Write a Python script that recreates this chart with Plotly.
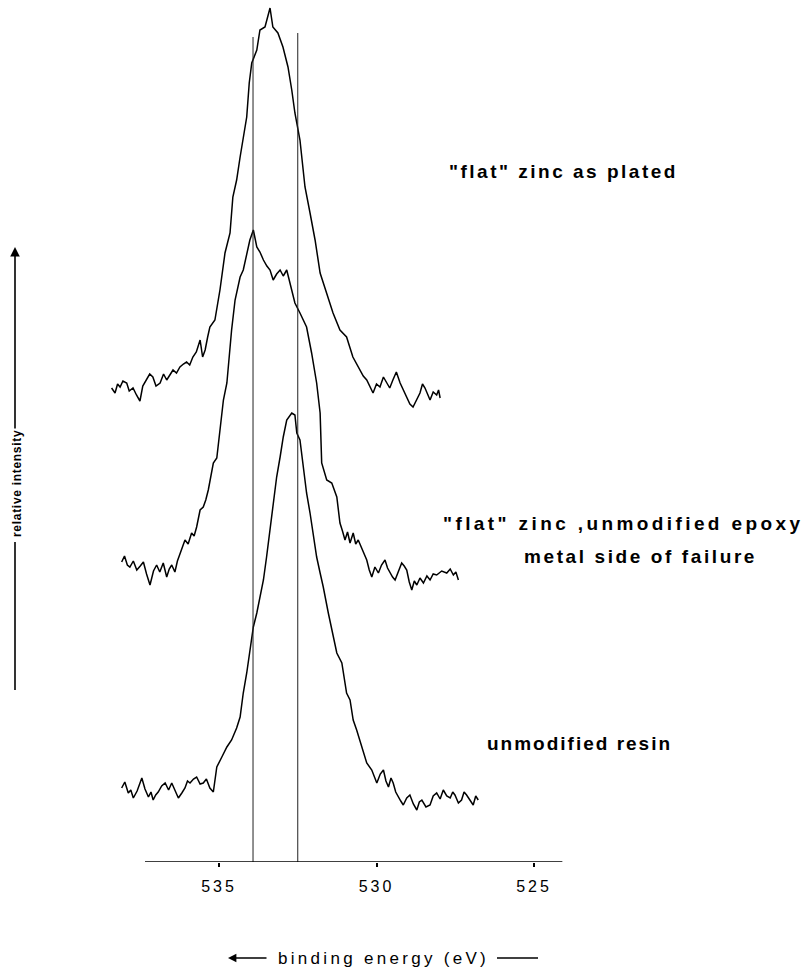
import plotly.graph_objects as go

# ---- data (binding energy in eV, relative intensity a.u.) ----
e_plated = [538.41, 538.30, 538.22, 538.14, 538.05, 537.93, 537.85, 537.73, 537.62, 537.51,
            537.42, 537.30, 537.20, 537.10, 537.00, 536.87, 536.76, 536.66, 536.56, 536.46,
            536.35, 536.24, 536.13, 536.03, 535.93, 535.83, 535.72, 535.60, 535.52, 535.44,
            535.36, 535.29, 535.13, 534.97, 534.81, 534.65,
            534.56, 534.44, 534.33, 534.21, 534.12, 534.04, 533.96, 533.80, 533.70, 533.54,
            533.38, 533.29, 533.13, 532.97, 532.81, 532.69, 532.59, 532.43, 532.27, 532.11,
            531.95, 531.79, 531.58, 531.38, 531.16, 530.95, 530.75, 530.63,
            530.52, 530.42, 530.31, 530.21, 530.11, 530.00, 529.89, 529.78, 529.68, 529.58,
            529.48, 529.37, 529.25, 529.15, 529.04, 528.94, 528.84, 528.73, 528.62, 528.54,
            528.46, 528.38, 528.30, 528.20, 528.09, 528.03, 527.98]
i_plated = [474, 469, 478, 475, 481, 479, 471, 474, 467, 461,
            476, 482, 488, 485, 476, 479, 488, 482, 487, 492,
            489, 495, 498, 500, 497, 505, 510, 522, 505, 512,
            525, 535, 542, 572, 609, 629,
            665, 682, 705, 729, 745, 779, 799, 812, 832, 835,
            854, 835, 829, 815, 795, 772, 749, 722, 675, 649,
            622, 589, 569, 549, 532, 525, 505, 498,
            492, 486, 482, 476, 469, 478, 475, 485, 479, 474,
            482, 490, 479, 472, 465, 458, 455, 462, 469, 478,
            474, 468, 462, 470, 467, 472, 464]

e_failure = [538.09, 538.00, 537.91, 537.83, 537.72, 537.61, 537.50, 537.40, 537.30, 537.19,
             537.08, 536.98, 536.88, 536.77, 536.66, 536.58, 536.50, 536.40, 536.32,
             536.24, 536.16, 536.08, 535.98, 535.87, 535.79, 535.71, 535.60, 535.50, 535.42,
             535.34, 535.25, 535.18, 535.07, 534.97,
             534.86, 534.75, 534.60, 534.49, 534.33, 534.23, 534.12, 534.02, 533.91, 533.80,
             533.70, 533.59, 533.48, 533.38, 533.28, 533.17, 533.06, 532.96, 532.85, 532.75,
             532.59, 532.43, 532.22, 532.06,
             531.90, 531.79, 531.74, 531.58, 531.42, 531.26, 531.16, 531.08, 531.00, 530.92,
             530.84, 530.74, 530.66, 530.58, 530.45, 530.31, 530.23, 530.15, 530.05, 529.94,
             529.84, 529.73, 529.65, 529.57, 529.49, 529.41, 529.30, 529.20, 529.12, 529.04,
             528.96, 528.88, 528.80, 528.72, 528.62, 528.51, 528.40, 528.30, 528.20, 528.09,
             527.93, 527.77, 527.66, 527.56, 527.48, 527.40]
i_failure = [300, 306, 297, 295, 301, 292, 296, 300, 288, 277,
             291, 297, 290, 299, 285, 293, 297, 290, 301,
             309, 315, 322, 318, 329, 326, 335, 352, 355, 362,
             372, 386, 399, 404, 429,
             462, 479, 532, 562, 585, 592, 609, 622, 632, 615,
             610, 602, 596, 592, 582, 588, 592, 586, 592, 579,
             559, 549, 535, 509,
             479, 449, 399, 382, 379, 365, 339, 331, 322, 330,
             319, 329, 318, 322, 312, 302, 292, 285, 295, 289,
             297, 302, 294, 289, 285, 282, 292, 299, 296, 292,
             280, 272, 281, 277, 284, 279, 286, 282, 288, 287,
             291, 289, 293, 287, 290, 282]

e_resin = [538.09, 537.99, 537.88, 537.80, 537.72, 537.60, 537.45, 537.35, 537.24, 537.16,
           537.09, 537.01, 536.93, 536.82, 536.71, 536.60, 536.50, 536.40, 536.29, 536.18,
           536.08, 536.00, 535.92, 535.81, 535.71, 535.60, 535.50, 535.40, 535.29, 535.18,
           535.07, 534.91, 534.75, 534.60,
           534.44, 534.33, 534.23, 534.12, 534.02, 533.91, 533.80, 533.70, 533.59, 533.49,
           533.38, 533.28, 533.17, 533.06, 532.96, 532.85, 532.69, 532.59, 532.53, 532.43,
           532.32, 532.22, 532.11, 532.01, 531.90, 531.79, 531.69, 531.53, 531.42, 531.26,
           531.10, 530.95, 530.84, 530.74, 530.63, 530.47, 530.31, 530.15, 529.99, 529.88,
           529.78, 529.70, 529.62, 529.54, 529.47, 529.39, 529.31, 529.23, 529.15, 529.04,
           528.94, 528.83, 528.72, 528.64, 528.56, 528.43, 528.30, 528.20, 528.09, 527.98,
           527.88, 527.77, 527.66, 527.58, 527.51, 527.40, 527.30, 527.22, 527.14, 527.03,
           526.93, 526.85, 526.77]
i_resin = [74, 80, 69, 72, 64, 71, 84, 73, 65, 70,
           62, 67, 70, 76, 79, 72, 79, 71, 64, 69,
           74, 81, 79, 83, 85, 78, 79, 83, 74, 70,
           95, 105, 115, 122,
           134, 145, 169, 189, 209, 235, 249, 265, 282, 305,
           332, 362, 385, 405, 425, 442, 449, 447, 429, 422,
           395, 369, 349, 329, 305, 289, 275, 249, 232, 209,
           199, 169, 162, 142, 132, 115, 99, 92, 79, 88,
           92, 81, 75, 84, 79, 70, 65, 61, 57, 64,
           67, 58, 52, 60, 62, 55, 57, 66, 69, 63,
           72, 66, 64, 70, 67, 59, 62, 70, 67, 61,
           57, 66, 62]

ref_lines_e = [533.92, 532.50]
ref_lines_top = [825, 829]

axis_span = [537.35, 524.10]
tick_vals = [535, 530, 525]
tick_text = ["535", "530", "525"]

labels = ['"flat" zinc as plated', '"flat" zinc ,unmodified epoxy',
          'metal side of failure', 'unmodified resin']
y_title = "relative intensity"
x_title = "binding energy (eV)"

# ---- geometry helpers (paper coordinates from the 809x971 frame) ----
L, R, T, B = 100, 570, 0, 862
W, H = R - L, B - T
def px(x):
    return (x - L) / W
def py(y):
    return (B - y) / H

def spaced(s, sp):
    return '<span style="letter-spacing:%spx">%s</span>' % (sp, s)

fig = go.Figure()
line_style = dict(color="black", width=1.5)
for e, i in [(e_plated, i_plated), (e_failure, i_failure), (e_resin, i_resin)]:
    fig.add_trace(go.Scatter(x=e, y=i, mode="lines", line=line_style,
                             hoverinfo="skip", showlegend=False))
for e, top in zip(ref_lines_e, ref_lines_top):
    fig.add_trace(go.Scatter(x=[e, e], y=[0, top], mode="lines",
                             line=dict(color="#222", width=1),
                             hoverinfo="skip", showlegend=False))

FONT = "Liberation Sans, Arial, Helvetica"
lab_font = dict(family=FONT, size=19, color="black")
ann = [
    dict(x=px(447), y=py(172), text=labels[0], sp=2.5),
    dict(x=px(441), y=py(523), text=labels[1], sp=3.4),
    dict(x=px(522), y=py(556), text=labels[2], sp=2.6),
    dict(x=px(485), y=py(743), text=labels[3], sp=2.0),
]
annotations = []
for a in ann:
    sp = a.pop("sp")
    a["text"] = "<b>" + spaced(a["text"], sp) + "</b>"
    a.update(xref="paper", yref="paper", xanchor="left", yanchor="middle",
             showarrow=False, font=lab_font)
    annotations.append(a)

# y-axis label with arrow
annotations.append(dict(xref="paper", yref="paper", x=px(17), y=py(484),
                        xanchor="center", yanchor="middle",
                        text="<b>" + spaced(y_title, 0.7) + "</b>", textangle=-90,
                        showarrow=False, font=dict(family=FONT, size=12, color="black")))
annotations.append(dict(xref="paper", yref="paper", x=px(15), y=py(247), text="",
                        showarrow=True, ax=0, ay=183, arrowhead=2, arrowsize=1.2,
                        arrowwidth=1.6, arrowcolor="black"))
# x-axis label with arrow
annotations.append(dict(xref="paper", yref="paper", x=px(276), y=py(958),
                        xanchor="left", yanchor="middle",
                        text=spaced(x_title, 3.3), showarrow=False,
                        font=dict(family=FONT, size=17, color="black")))
annotations.append(dict(xref="paper", yref="paper", x=px(228), y=py(958), text="",
                        showarrow=True, ax=40, ay=0, arrowhead=2, arrowsize=1.2,
                        arrowwidth=1.4, arrowcolor="black"))

shapes = [
    dict(type="line", xref="x", yref="y", x0=axis_span[0], x1=axis_span[1],
         y0=0, y1=0, line=dict(color="black", width=1.6)),
    dict(type="line", xref="paper", yref="paper", x0=px(15), x1=px(15),
         y0=py(542), y1=py(690), line=dict(color="black", width=1.6)),
    dict(type="line", xref="paper", yref="paper", x0=px(497), x1=px(538),
         y0=py(958), y1=py(958), line=dict(color="black", width=1.4)),
]

x_lo = 535 + (219 - L) / 31.5
x_hi = 535 - (R - 219) / 31.5

fig.update_layout(
    width=809, height=971,
    margin=dict(l=L, r=809 - R, t=T, b=971 - B),
    paper_bgcolor="white", plot_bgcolor="white",
    annotations=annotations, shapes=shapes,
    xaxis=dict(range=[x_lo, x_hi], showgrid=False, zeroline=False,
               showline=False,
               tickvals=tick_vals, ticktext=[spaced(t, 3) for t in tick_text],
               ticks="outside", ticklen=4, tickwidth=1.5, tickcolor="black",
               ticklabelstandoff=6,
               tickfont=dict(family=FONT, size=16, color="black")),
    yaxis=dict(range=[0, 862], visible=False, showgrid=False, zeroline=False),
)

fig.write_html("out.html", config={"displayModeBar": False},
               post_script="document.body.style.margin='0';document.body.style.overflow='hidden';")
